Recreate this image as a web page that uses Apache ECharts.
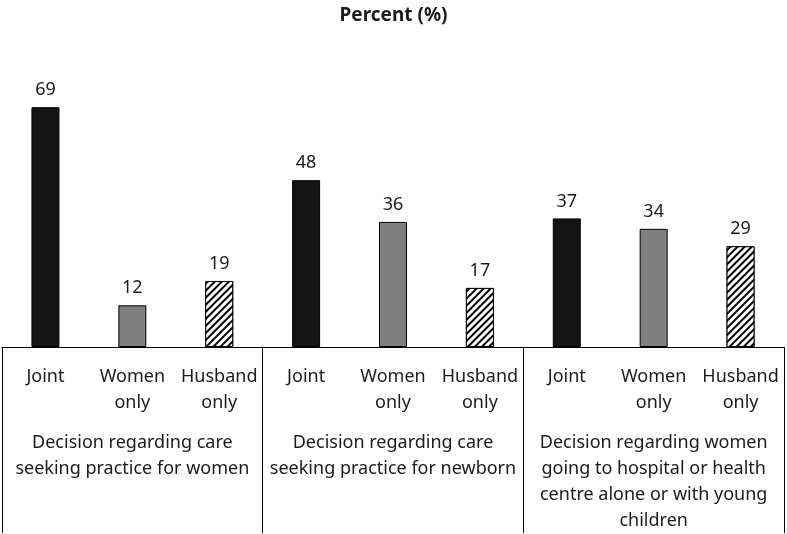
<!DOCTYPE html>
<html>
<head>
<meta charset="utf-8">
<script src="https://cdn.jsdelivr.net/npm/echarts@6/dist/echarts.min.js"></script>
<style>html,body{margin:0;padding:0;background:#fff;}#c{width:787px;height:534px;}</style>
</head>
<body>
<div id="c"></div>
<script>
const groups = [
  'Decision regarding care\nseeking practice for women',
  'Decision regarding care\nseeking practice for newborn',
  'Decision regarding women\ngoing to hospital or health\ncentre alone or with young\nchildren'
];
const decisionTypes = ['Joint', 'Women\nonly', 'Husband\nonly'];
const jointValues = [69, 48, 37];
const womenOnlyValues = [12, 36, 34];
const husbandOnlyValues = [19, 17, 29];

const FONT = 'Noto Sans';
const styles = [
  { color: '#141414', borderColor: '#000', borderWidth: 1 },
  { color: '#7f7f7f', borderColor: '#000', borderWidth: 1 },
  { color: '#fff', borderColor: '#000', borderWidth: 1,
    decal: { symbol: 'rect', symbolSize: 1, dashArrayX: [1, 0], dashArrayY: [2, 3],
             rotation: -Math.PI / 4, color: '#000', backgroundColor: '#fff' } }
];
const series3 = [jointValues, womenOnlyValues, husbandOnlyValues];
const categories = [];
const data = [];
groups.forEach((g, gi) => {
  decisionTypes.forEach((t, ti) => {
    categories.push(t);
    data.push({ value: series3[ti][gi], itemStyle: styles[ti] });
  });
});

const chart = echarts.init(document.getElementById('c'));
chart.setOption({
  backgroundColor: '#fff',
  animation: false,
  title: {
    text: 'Percent (%)', left: 'center', top: 1,
    textStyle: { fontFamily: FONT, fontSize: 19, fontWeight: 'bold', color: '#1a1a1a' }
  },
  grid: { left: 2, right: 3, top: 69, bottom: 185, containLabel: false },
  xAxis: [
    {
      type: 'category', data: categories, position: 'bottom',
      axisLine: { show: true, lineStyle: { color: '#000', width: 1 } },
      axisTick: { show: false },
      axisLabel: { interval: 0, margin: 17, fontFamily: FONT, fontSize: 18, lineHeight: 26, color: '#1a1a1a' }
    },
    {
      type: 'category', data: groups, position: 'bottom',
      axisLine: { show: true, lineStyle: { color: '#000', width: 1 } },
      axisTick: { show: true, length: 186, lineStyle: { color: '#000', width: 1 } },
      axisLabel: { interval: 0, margin: 83, fontFamily: FONT, fontSize: 18, lineHeight: 26, color: '#1a1a1a', align: 'center' }
    }
  ],
  yAxis: { type: 'value', min: 0, max: 80, show: false, splitLine: { show: false } },
  series: [{
    type: 'bar', xAxisIndex: 0, data: data, barWidth: 28,
    label: { show: true, position: 'top', distance: 8, fontFamily: FONT, fontSize: 18, color: '#1a1a1a' }
  }]
});
</script>
</body>
</html>
